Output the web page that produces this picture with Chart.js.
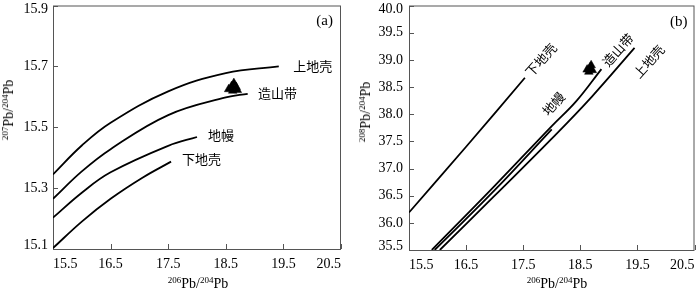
<!DOCTYPE html>
<html>
<head>
<meta charset="utf-8">
<script src="https://cdn.jsdelivr.net/npm/chart.js@4.4.1/dist/chart.umd.min.js"></script>
<style>
  body { margin: 0; background: #fff; }
  #wrap { position: relative; width: 700px; height: 291px; overflow: hidden; font-family: "Liberation Serif", "Times New Roman", serif; }
  canvas { position: absolute; top: 0; }
  #chartA { left: 0; }
  #chartB { left: 350px; }
  .axis-title { position: absolute; font-size: 14px; white-space: nowrap; color: #000; line-height: 1; }
  .axis-title sup { font-size: 9px; vertical-align: 5px; line-height: 0; }
  .x-title { transform: translate(-50%, -50%); }
  .y-title { transform: translate(-50%, -50%) rotate(-90deg); }
</style>
</head>
<body>
<div id="wrap">
  <canvas id="chartA" width="350" height="291"></canvas>
  <canvas id="chartB" width="350" height="291"></canvas>
  <div class="axis-title x-title" style="left:198px; top:284px;"><sup>206</sup>Pb/<sup>204</sup>Pb</div>
  <div class="axis-title x-title" style="left:557px; top:284px;"><sup>206</sup>Pb/<sup>204</sup>Pb</div>
  <div class="axis-title y-title" style="left:9px; top:110px;"><sup>207</sup>Pb/<sup>204</sup>Pb</div>
  <div class="axis-title y-title" style="left:366px; top:112px;"><sup>208</sup>Pb/<sup>204</sup>Pb</div>
</div>
<script>
// ==================== DATA ====================
const xTicks = [15.5, 16.5, 17.5, 18.5, 19.5, 20.5];
const yTicksA = [15.1, 15.3, 15.5, 15.7, 15.9];
const yTicksB = [35.5, 36.0, 36.5, 37.0, 37.5, 38.0, 38.5, 39.0, 39.5, 40.0];

// (a) 207Pb/204Pb vs 206Pb/204Pb
const upperCrustA = [[15.5, 15.345], [16.0, 15.44], [16.5, 15.515], [17.5, 15.618], [18.5, 15.678], [19.42, 15.70]];
const orogenA = [[15.5, 15.265], [16.0, 15.355], [16.5, 15.428], [17.5, 15.54], [18.5, 15.598], [18.88, 15.61]];
const mantleA = [[15.5, 15.203], [16.0, 15.285], [16.5, 15.352], [17.5, 15.439], [18.0, 15.468]];
const lowerCrustA = [[15.5, 15.103], [16.0, 15.19], [16.5, 15.265], [17.06, 15.335], [17.55, 15.387]];
const samplesA = [[18.55, 15.625], [18.6, 15.635], [18.64, 15.645], [18.68, 15.632], [18.62, 15.62], [18.7, 15.622]];

// (b) 208Pb/204Pb vs 206Pb/204Pb
const lowerCrustB = [[15.5, 36.19], [16.5, 37.40], [17.53, 38.67]];
const orogenB = [[15.9, 35.5], [17.0, 36.68], [18.0, 37.78], [18.43, 38.24], [18.87, 38.83]];
const mantleB = [[15.95, 35.5], [17.0, 36.6], [18.0, 37.72]];
const upperCrustB = [[16.04, 35.5], [17.0, 36.5], [18.0, 37.55], [18.7, 38.32], [19.45, 39.22]];
const samplesB = [[18.62, 38.82], [18.67, 38.86], [18.71, 38.81], [18.65, 38.78], [18.69, 38.9]];

// curve labels (data units)
const labelsA = [
    { text: '上地壳', x: 19.67, y: 15.70 },
    { text: '造山带', x: 19.06, y: 15.613 },
    { text: '地幔', x: 18.19, y: 15.474 },
    { text: '下地壳', x: 17.74, y: 15.394 }
];
const labelsB = [
    { text: '下地壳', x: 17.81, y: 39.0 },
    { text: '造山带', x: 19.16, y: 39.18 },
    { text: '上地壳', x: 19.70, y: 38.97 },
    { text: '地幔', x: 18.03, y: 38.19 }
];

const toPts = arr => arr.map(p => ({ x: p[0], y: p[1] }));
const serif = '"Liberation Serif", "Times New Roman", serif';
const cjk = '"Noto Sans CJK SC", sans-serif';

// ==================== PLUGINS ====================
const framePlugin = {
    id: 'frame',
    beforeDatasetsDraw(chart) {
        const { ctx, chartArea: a, scales } = chart;
        ctx.save();
        ctx.strokeStyle = '#555';
        ctx.lineWidth = 1;
        ctx.strokeRect(a.left + 0.5, a.top + 0.5, a.right - a.left - 1, a.bottom - a.top);
        ctx.beginPath();
        scales.x.ticks.forEach(t => {
            const px = Math.round(scales.x.getPixelForValue(t.value)) + 0.5;
            ctx.moveTo(px, a.bottom);
            ctx.lineTo(px, a.bottom - 5);
        });
        scales.y.ticks.forEach(t => {
            const py = Math.round(scales.y.getPixelForValue(t.value)) + 0.5;
            ctx.moveTo(a.left, py);
            ctx.lineTo(a.left + 5, py);
        });
        ctx.stroke();
        ctx.restore();
    }
};

const curveLabelPlugin = {
    id: 'curveLabels',
    afterDatasetsDraw(chart, args, opts) {
        const { ctx, scales, chartArea } = chart;
        ctx.save();
        ctx.fillStyle = '#000';
        (opts.items || []).forEach(it => {
            ctx.save();
            ctx.translate(scales.x.getPixelForValue(it.x), scales.y.getPixelForValue(it.y));
            ctx.rotate((opts.angle || 0) * Math.PI / 180);
            ctx.font = '13px ' + cjk;
            ctx.textAlign = opts.align || 'left';
            ctx.textBaseline = 'middle';
            ctx.fillText(it.text, 0, 0);
            ctx.restore();
        });
        if (opts.tag) {
            ctx.font = '15px ' + serif;
            ctx.textAlign = 'right';
            ctx.textBaseline = 'middle';
            ctx.fillText(opts.tag, chartArea.right - opts.tagDx, chartArea.top + opts.tagDy);
        }
        ctx.restore();
    }
};

// ==================== CHART BUILDER ====================
function lineSet(pts) {
    return {
        data: toPts(pts),
        showLine: true,
        borderColor: '#000',
        borderWidth: 1.8,
        pointRadius: 0,
        tension: 0.4,
        fill: false,
        order: 1
    };
}

function sampleSet(pts) {
    return {
        data: toPts(pts),
        pointStyle: 'triangle',
        pointRadius: 5,
        backgroundColor: '#000',
        borderColor: '#000',
        borderWidth: 0.5,
        order: 0
    };
}

function makeChart(id, cfg) {
    const lastTick = cfg.yTicks.length - 1;
    const tickFont = (c) => {
        const edge = c.index === 0 || c.index === lastTick;
        return { family: serif, size: 14, lineHeight: edge ? '8px' : 1.2 };
    };
    return new Chart(document.getElementById(id), {
        type: 'scatter',
        data: { datasets: cfg.datasets },
        plugins: [framePlugin, curveLabelPlugin],
        options: {
            responsive: false,
            animation: false,
            events: [],
            layout: { padding: cfg.padding },
            plugins: {
                legend: { display: false },
                tooltip: { enabled: false },
                curveLabels: cfg.labels
            },
            scales: {
                x: {
                    type: 'linear',
                    min: 15.5,
                    max: 20.5,
                    grid: { display: false, drawTicks: false },
                    border: { display: false },
                    afterBuildTicks: s => { s.ticks = xTicks.map(v => ({ value: v })); },
                    afterFit: s => {
                        s.height = cfg.xHeight;
                        s.paddingLeft = s.paddingRight = s.paddingTop = s.paddingBottom = 0;
                    },
                    ticks: {
                        color: '#000',
                        padding: 7,
                        align: 'inner',
                        maxRotation: 0,
                        font: { family: serif, size: 14 },
                        callback: v => v.toFixed(1)
                    }
                },
                y: {
                    type: 'linear',
                    min: cfg.yTicks[0],
                    max: cfg.yTicks[lastTick],
                    grid: { display: false, drawTicks: false },
                    border: { display: false },
                    afterBuildTicks: s => { s.ticks = cfg.yTicks.map(v => ({ value: v })); },
                    afterFit: s => {
                        s.width = cfg.yWidth;
                        s.paddingLeft = s.paddingRight = s.paddingTop = s.paddingBottom = 0;
                    },
                    ticks: {
                        color: '#000',
                        padding: cfg.yPad,
                        font: tickFont,
                        callback: (v, i) => {
                            const s = v.toFixed(1);
                            if (i === lastTick) return ['', s];
                            if (i === 0) return [s, ''];
                            return s;
                        }
                    }
                }
            }
        }
    });
}

makeChart('chartA', {
    datasets: [sampleSet(samplesA), lineSet(upperCrustA), lineSet(orogenA), lineSet(mantleA), lineSet(lowerCrustA)],
    yTicks: yTicksA,
    padding: { top: 1, right: 9, left: 0, bottom: 0 },
    xHeight: 42,
    yWidth: 53,
    yPad: 5,
    labels: { items: labelsA, align: 'left', angle: 0, tag: '(a)', tagDx: 8, tagDy: 16 }
});

makeChart('chartB', {
    datasets: [sampleSet(samplesB), lineSet(lowerCrustB), lineSet(orogenB), lineSet(mantleB), lineSet(upperCrustB)],
    yTicks: yTicksB,
    padding: { top: 2, right: 3, left: 0, bottom: 0 },
    xHeight: 41,
    yWidth: 59,
    yPad: 6,
    labels: { items: labelsB, align: 'center', angle: -48, tag: '(b)', tagDx: 7, tagDy: 17 }
});
</script>
</body>
</html>
